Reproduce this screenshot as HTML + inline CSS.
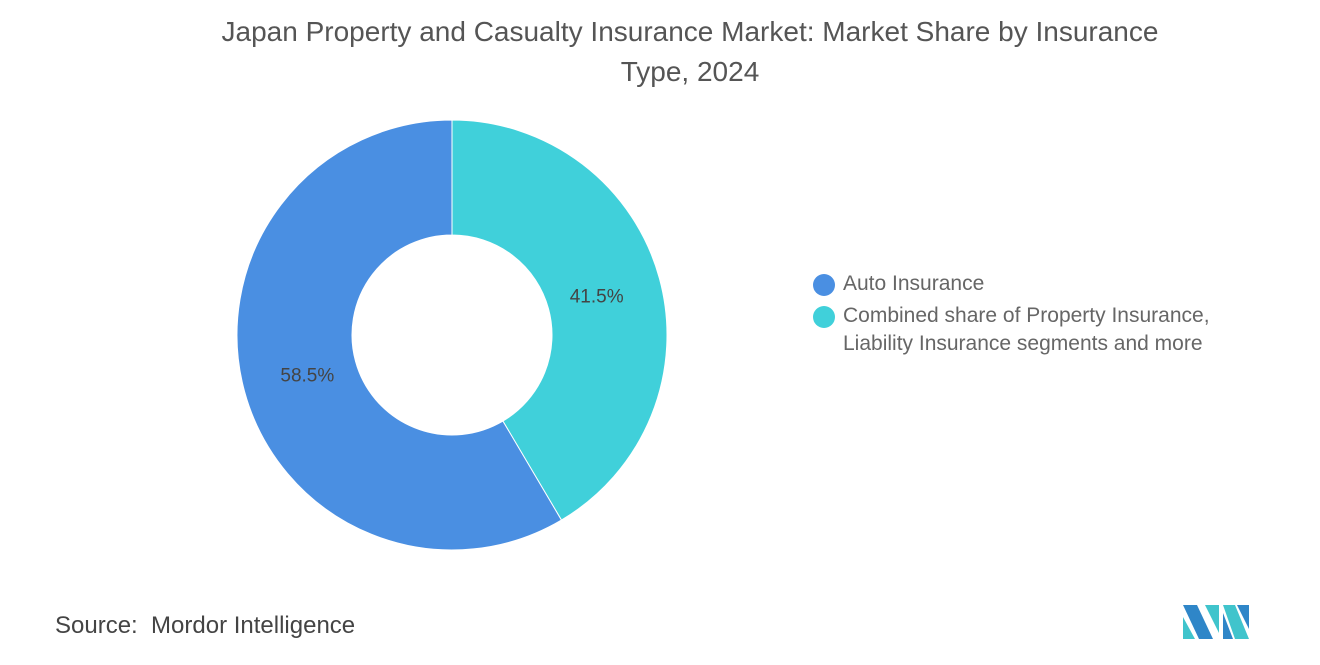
<!DOCTYPE html>
<html><head><meta charset="utf-8"><style>
body{margin:0;width:1320px;height:665px;background:#fff;font-family:"Liberation Sans",sans-serif;overflow:hidden;position:relative}
#title{position:absolute;left:0;width:1380px;top:12px;text-align:center;font-size:28px;line-height:40px;color:#555}
#src{position:absolute;left:55px;top:612px;font-size:24px;color:#444}
.leg{position:absolute;left:815px;font-size:21px;color:#666;line-height:28px}
.dot{position:absolute;left:-2px;width:22px;height:22px;border-radius:50%}
</style></head><body>
<div id="title">Japan Property and Casualty Insurance Market: Market Share by Insurance<br>Type, 2024</div>
<svg id="chart" width="1320" height="665" style="position:absolute;left:0;top:0"></svg>
<div class="leg" style="top:270px"><span class="dot" style="top:4px;background:#4a8fe2"></span><span style="margin-left:28px">Auto Insurance</span></div>
<div class="leg" style="top:302px"><span class="dot" style="top:4px;background:#40d0da"></span><div style="margin-left:28px">Combined share of Property Insurance,<br>Liability Insurance segments and more</div></div>
<div id="src">Source:&nbsp; Mordor Intelligence</div>
<svg width="70" height="40" style="position:absolute;left:1183px;top:603px">
<polygon points="0,2 14,2 30,36 16,36" fill="#2f86c8"/><polygon points="0,14 12,36 0,36" fill="#40c4cc"/>
<polygon points="22,2 36,2 36,30" fill="#40c4cc"/><polygon points="40,2 52,2 66,36 52,36" fill="#40c4cc"/>
<polygon points="54,2 66,2 66,26" fill="#2f86c8"/><polygon points="40,10 50,36 40,36" fill="#2f86c8"/>
</svg>
<script>
const categories=["Auto Insurance","Combined share of Property Insurance, Liability Insurance segments and more"];
const values=[58.5,41.5];
const labels=["58.5%","41.5%"];
const colors=["#4a8fe2","#40d0da"];
const cx=452,cy=335,R=215,r=100;
const svg=document.getElementById('chart');
const NS="http://www.w3.org/2000/svg";
const total=values.reduce((a,b)=>a+b,0);
// cyan drawn clockwise from top; blue fills rest
let order=[1,0];
let start=0;
function pt(a,rad){return [cx+rad*Math.sin(a),cy-rad*Math.cos(a)];}
order.forEach(i=>{
  const sweep=values[i]/total*2*Math.PI;
  const end=start+sweep;
  const large=sweep>Math.PI?1:0;
  const [x1,y1]=pt(start,R),[x2,y2]=pt(end,R),[x3,y3]=pt(end,r),[x4,y4]=pt(start,r);
  const p=document.createElementNS(NS,'path');
  p.setAttribute('d',`M${x1},${y1}A${R},${R} 0 ${large} 1 ${x2},${y2}L${x3},${y3}A${r},${r} 0 ${large} 0 ${x4},${y4}Z`);
  p.setAttribute('fill',colors[i]);
  p.setAttribute('stroke','#fff');
  p.setAttribute('stroke-width','1');
  
  
  svg.appendChild(p);
  const mid=start+sweep/2;
  const [lx,ly]=pt(mid,150);
  const t=document.createElementNS(NS,'text');
  t.setAttribute('x',lx);t.setAttribute('y',ly+7);
  t.setAttribute('text-anchor','middle');
  t.setAttribute('font-size','19');
  t.setAttribute('fill','#444');
  t.setAttribute('font-family','Liberation Sans, sans-serif');
  
  
  t.textContent=labels[i];
  svg.appendChild(t);
  start=end;
});
</script>
</body></html>
